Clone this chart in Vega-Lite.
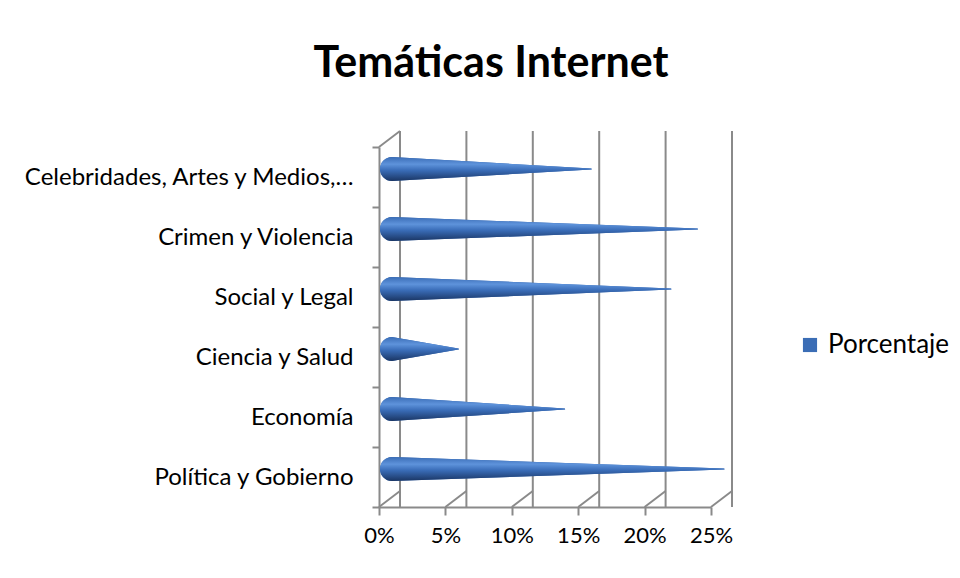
{
  "$schema": "https://vega.github.io/schema/vega-lite/v6.json",
  "width": 332,
  "height": 360,
  "autosize": {"type": "none"},
  "padding": {"left": 379, "top": 147, "right": 249, "bottom": 71},
  "background": "white",
  "config": {"view": {"stroke": null}, "font": "Lato"},
  "title": {"text": "Temáticas Internet", "fontSize": 43, "font": "Lato", "fontWeight": "bold", "color": "black", "anchor": "middle", "dx": -54, "offset": 44, "frame": "group"},
  "datasets": {
    "temas": [
      {"tema": "Celebridades, Artes y Medios,…", "porcentaje": 15},
      {"tema": "Crimen y Violencia", "porcentaje": 23},
      {"tema": "Social y Legal", "porcentaje": 21},
      {"tema": "Ciencia y Salud", "porcentaje": 5},
      {"tema": "Economía", "porcentaje": 13},
      {"tema": "Política y Gobierno", "porcentaje": 25}
    ],
    "marcas": [{"valor": 0}, {"valor": 5}, {"valor": 10}, {"valor": 15}, {"valor": 20}, {"valor": 25}]
  },
  "encoding": {
    "x": {
      "field": "valor", "type": "quantitative",
      "scale": {"domain": [0, 25], "nice": false, "zero": true},
      "axis": {"title": null, "values": [0, 5, 10, 15, 20, 25], "labelExpr": "datum.value + '%'", "labelFlush": false, "labelOverlap": false, "domainColor": "#8a8a8a", "domainWidth": 2, "tickColor": "#8a8a8a", "tickWidth": 2, "tickSize": 8, "labelFontSize": 22, "labelPadding": 10, "labelColor": "black", "grid": false, "labelFont": "Lato"}
    }
  },
  "layer": [
    {
      "data": {"name": "marcas"},
      "mark": {"type": "rule", "color": "#8a8a8a", "strokeWidth": 2, "xOffset": 21, "yOffset": -16, "y2Offset": -16},
      "encoding": {}
    },
    {
      "data": {"name": "marcas"},
      "mark": {"type": "rule", "color": "#8a8a8a", "strokeWidth": 2, "x2Offset": 21, "y2Offset": -16},
      "encoding": {"x2": {"field": "valor"}, "y": {"value": "height"}, "y2": {"value": "height"}}
    },
    {
      "data": {"name": "marcas"},
      "transform": [{"filter": "datum.valor == 0"}],
      "mark": {"type": "rule", "color": "#8a8a8a", "strokeWidth": 2, "x2Offset": 21, "y2Offset": -16},
      "encoding": {"x2": {"field": "valor"}, "y": {"value": 0}, "y2": {"value": 0}}
    },
    {
      "data": {"name": "temas"},
      "transform": [
        {"calculate": "0", "as": "inicio"},
        {"fold": ["inicio", "porcentaje"], "as": ["extremo", "valor"]}
      ],
      "mark": {"type": "trail", "xOffset": 13, "yOffset": -8},
      "encoding": {
        "y": {"field": "tema", "type": "nominal", "sort": ["Celebridades, Artes y Medios,…", "Crimen y Violencia", "Social y Legal", "Ciencia y Salud", "Economía", "Política y Gobierno"], "scale": {"paddingInner": 0, "paddingOuter": 0},
          "axis": {"title": null, "domainColor": "#8a8a8a", "domainWidth": 2, "tickColor": "#8a8a8a", "tickWidth": 2, "tickSize": 7, "tickBand": "extent", "labelFontSize": 24, "labelColor": "black", "labelPadding": 19, "labelLimit": 400, "labelFont": "Lato"}},
        "detail": {"field": "tema"},
        "size": {"field": "extremo", "type": "ordinal", "scale": {"domain": ["inicio", "porcentaje"], "range": [24, 0]}, "legend": null},
        "color": {"datum": "Porcentaje", "scale": {"range": ["#3B6DB5"]}, "legend": {"title": null, "orient": "none", "legendX": 418, "legendY": 185, "symbolType": "square", "symbolSize": 200, "labelFontSize": 26, "labelColor": "black", "labelFont": "Lato", "labelOffset": 5, "padding": 0,
          "encode": {"symbols": {"update": {"fill": {"value": "#3B6DB5"}, "stroke": {"value": "#3B6DB5"}, "strokeWidth": {"value": 0}, "opacity": {"value": 1}}}}}}
      }
    },
    {
      "data": {"name": "temas"},
      "transform": [
        {"calculate": "0", "as": "inicio"},
        {"fold": ["inicio", "porcentaje"], "as": ["extremo", "valor"]}
      ],
      "mark": {"type": "trail", "xOffset": 13, "yOffset": -8, "fill": {"gradient": "linear", "x1": 0, "y1": 0, "x2": 0, "y2": 1, "stops": [{"offset": 0, "color": "#3A6CB5"}, {"offset": 0.3, "color": "#5E93DB"}, {"offset": 0.55, "color": "#3A6DB8"}, {"offset": 1, "color": "#1A3563"}]}},
      "encoding": {
        "y": {"field": "tema", "type": "nominal", "sort": ["Celebridades, Artes y Medios,…", "Crimen y Violencia", "Social y Legal", "Ciencia y Salud", "Economía", "Política y Gobierno"]},
        "detail": {"field": "tema"},
        "size": {"field": "extremo", "type": "ordinal", "legend": null}
      }
    }
  ]
}
